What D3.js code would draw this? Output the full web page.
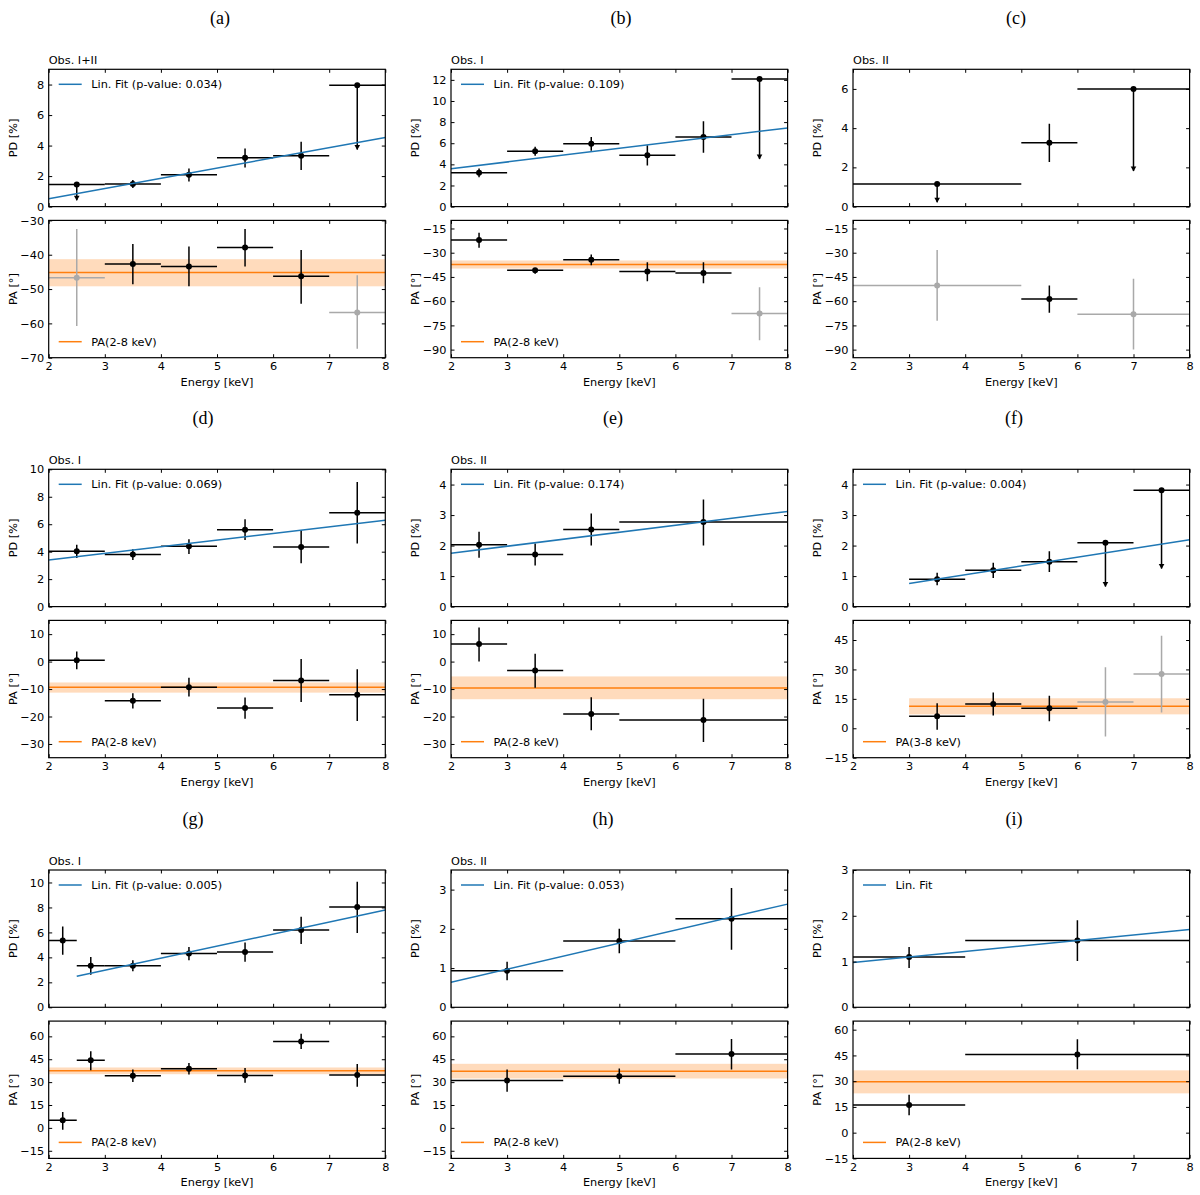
<!DOCTYPE html>
<html>
<head>
<meta charset="utf-8">
<script src="https://cdn.jsdelivr.net/npm/d3@7"></script>
<style>
  body { margin: 0; background: #fff; }
  svg text { font-family: "DejaVu Sans", sans-serif; fill: #000; }
  .tick text { font-size: 11.3px; }
  .tag { font-family: "Liberation Serif", "DejaVu Serif", serif !important; font-size: 18px; }
</style>
</head>
<body>
<div id="chart"></div>
<script>
// ---- data ----
// each point: x = bin centre, x0/x1 = bin edges, y = value, y0/y1 = error range,
// ul = arrow tip for upper limits, grey = low-significance bin

const pdA = [
  { x: 2.5, x0: 2, x1: 3, y: 1.45, ul: 0.42 },
  { x: 3.5, x0: 3, x1: 4, y: 1.48, y0: 1.22, y1: 1.74 },
  { x: 4.5, x0: 4, x1: 5, y: 2.09, y0: 1.65, y1: 2.5 },
  { x: 5.5, x0: 5, x1: 6, y: 3.2, y0: 2.57, y1: 3.81 },
  { x: 6.5, x0: 6, x1: 7, y: 3.33, y0: 2.4, y1: 4.25 },
  { x: 7.5, x0: 7, x1: 8, y: 7.95, ul: 3.75 },
];
const paA = [
  { x: 2.5, x0: 2, x1: 3, y: -46.7, y0: -60.8, y1: -32.5, grey: true },
  { x: 3.5, x0: 3, x1: 4, y: -42.7, y0: -48.6, y1: -36.9 },
  { x: 4.5, x0: 4, x1: 5, y: -43.4, y0: -49.2, y1: -37.6 },
  { x: 5.5, x0: 5, x1: 6, y: -37.9, y0: -43.4, y1: -32.5 },
  { x: 6.5, x0: 6, x1: 7, y: -46.3, y0: -54.3, y1: -38.6 },
  { x: 7.5, x0: 7, x1: 8, y: -56.8, y0: -67.4, y1: -46.0, grey: true },
];
const fitA = [[2, 0.52], [8, 4.53]];
const bandA = { x0: 2, x1: 8, c: -45.2, lo: -49.2, hi: -41.3 };

const pdB = [
  { x: 2.5, x0: 2, x1: 3, y: 3.2, y0: 2.77, y1: 3.6 },
  { x: 3.5, x0: 3, x1: 4, y: 5.25, y0: 4.81, y1: 5.66 },
  { x: 4.5, x0: 4, x1: 5, y: 5.94, y0: 5.28, y1: 6.6 },
  { x: 5.5, x0: 5, x1: 6, y: 4.87, y0: 3.9, y1: 5.82 },
  { x: 6.5, x0: 6, x1: 7, y: 6.6, y0: 5.1, y1: 8.08 },
  { x: 7.5, x0: 7, x1: 8, y: 12.07, ul: 4.5 },
];
const paB = [
  { x: 2.5, x0: 2, x1: 3, y: -22.2, y0: -27, y1: -17.7 },
  { x: 3.5, x0: 3, x1: 4, y: -40.8, y0: -43.1, y1: -39.4 },
  { x: 4.5, x0: 4, x1: 5, y: -34.4, y0: -37.7, y1: -31.1 },
  { x: 5.5, x0: 5, x1: 6, y: -41.7, y0: -47.6, y1: -35.9 },
  { x: 6.5, x0: 6, x1: 7, y: -42.5, y0: -48.9, y1: -35.9 },
  { x: 7.5, x0: 7, x1: 8, y: -67.7, y0: -84.2, y1: -51.4, grey: true },
];
const fitB = [[2, 3.58], [8, 7.45]];
const bandB = { x0: 2, x1: 8, c: -37.3, lo: -39.8, hi: -34.8 };

const pdC = [
  { x: 3.5, x0: 2, x1: 5, y: 1.15, ul: 0.22 },
  { x: 5.5, x0: 5, x1: 6, y: 3.26, y0: 2.28, y1: 4.22 },
  { x: 7, x0: 6, x1: 8, y: 6.0, ul: 1.82 },
];
const paC = [
  { x: 3.5, x0: 2, x1: 5, y: -50.3, y0: -72.2, y1: -28.4, grey: true },
  { x: 5.5, x0: 5, x1: 6, y: -58.6, y0: -67.1, y1: -50.3 },
  { x: 7, x0: 6, x1: 8, y: -68.1, y0: -90, y1: -46.2, grey: true },
];

const pdD = [
  { x: 2.5, x0: 2, x1: 3, y: 4.03, y0: 3.54, y1: 4.51 },
  { x: 3.5, x0: 3, x1: 4, y: 3.79, y0: 3.4, y1: 4.17 },
  { x: 4.5, x0: 4, x1: 5, y: 4.39, y0: 3.83, y1: 4.9 },
  { x: 5.5, x0: 5, x1: 6, y: 5.6, y0: 4.85, y1: 6.36 },
  { x: 6.5, x0: 6, x1: 7, y: 4.34, y0: 3.16, y1: 5.56 },
  { x: 7.5, x0: 7, x1: 8, y: 6.84, y0: 4.59, y1: 9.08 },
];
const paD = [
  { x: 2.5, x0: 2, x1: 3, y: 0.5, y0: -2.8, y1: 3.7 },
  { x: 3.5, x0: 3, x1: 4, y: -14.3, y0: -17.1, y1: -11.5 },
  { x: 4.5, x0: 4, x1: 5, y: -9.3, y0: -12.7, y1: -5.9 },
  { x: 5.5, x0: 5, x1: 6, y: -16.9, y0: -20.8, y1: -13.1 },
  { x: 6.5, x0: 6, x1: 7, y: -6.9, y0: -14.7, y1: 0.9 },
  { x: 7.5, x0: 7, x1: 8, y: -12.1, y0: -21.6, y1: -2.8 },
];
const fitD = [[2, 3.4], [8, 6.29]];
const bandD = { x0: 2, x1: 8, c: -9.3, lo: -11.3, hi: -7.6 };

const pdE = [
  { x: 2.5, x0: 2, x1: 3, y: 2.03, y0: 1.6, y1: 2.45 },
  { x: 3.5, x0: 3, x1: 4, y: 1.71, y0: 1.35, y1: 2.07 },
  { x: 4.5, x0: 4, x1: 5, y: 2.53, y0: 2.0, y1: 3.05 },
  { x: 6.5, x0: 5, x1: 8, y: 2.77, y0: 2.0, y1: 3.51 },
];
const paE = [
  { x: 2.5, x0: 2, x1: 3, y: 6.4, y0: 0.0, y1: 12.4 },
  { x: 3.5, x0: 3, x1: 4, y: -3.25, y0: -9.5, y1: 2.9 },
  { x: 4.5, x0: 4, x1: 5, y: -19.1, y0: -25, y1: -13 },
  { x: 6.5, x0: 5, x1: 8, y: -21.3, y0: -29.3, y1: -13.5 },
];
const fitE = [[2, 1.75], [8, 3.12]];
const bandE = { x0: 2, x1: 8, c: -9.6, lo: -13.7, hi: -5.4 };

const pdF = [
  { x: 3.5, x0: 3, x1: 4, y: 0.9, y0: 0.7, y1: 1.11 },
  { x: 4.5, x0: 4, x1: 5, y: 1.19, y0: 0.94, y1: 1.44 },
  { x: 5.5, x0: 5, x1: 6, y: 1.47, y0: 1.13, y1: 1.81 },
  { x: 6.5, x0: 6, x1: 7, y: 2.09, ul: 0.66 },
  { x: 7.5, x0: 7, x1: 8, y: 3.81, ul: 1.25 },
];
const paF = [
  { x: 3.5, x0: 3, x1: 4, y: 6.1, y0: -0.7, y1: 12.7 },
  { x: 4.5, x0: 4, x1: 5, y: 12.4, y0: 6.5, y1: 18.3 },
  { x: 5.5, x0: 5, x1: 6, y: 10.2, y0: 3.6, y1: 16.6 },
  { x: 6.5, x0: 6, x1: 7, y: 13.4, y0: -4.2, y1: 31.1, grey: true },
  { x: 7.5, x0: 7, x1: 8, y: 27.7, y0: 8.1, y1: 47.2, grey: true },
];
const fitF = [[3, 0.76], [8, 2.19]];
const bandF = { x0: 3, x1: 8, c: 11.2, lo: 7.1, hi: 15.3 };

const pdG = [
  { x: 2.25, x0: 2, x1: 2.5, y: 5.36, y0: 4.21, y1: 6.48 },
  { x: 2.75, x0: 2.5, x1: 3, y: 3.33, y0: 2.61, y1: 4.03 },
  { x: 3.5, x0: 3, x1: 4, y: 3.33, y0: 2.88, y1: 3.76 },
  { x: 4.5, x0: 4, x1: 5, y: 4.32, y0: 3.76, y1: 4.83 },
  { x: 5.5, x0: 5, x1: 6, y: 4.43, y0: 3.65, y1: 5.2 },
  { x: 6.5, x0: 6, x1: 7, y: 6.19, y0: 5.07, y1: 7.25 },
  { x: 7.5, x0: 7, x1: 8, y: 8.03, y0: 5.95, y1: 10.05 },
];
const paG = [
  { x: 2.25, x0: 2, x1: 2.5, y: 5.0, y0: -1.3, y1: 10.4 },
  { x: 2.75, x0: 2.5, x1: 3, y: 44.3, y0: 37.8, y1: 50.2 },
  { x: 3.5, x0: 3, x1: 4, y: 34.1, y0: 30, y1: 38.3 },
  { x: 4.5, x0: 4, x1: 5, y: 38.7, y0: 35, y1: 42.6 },
  { x: 5.5, x0: 5, x1: 6, y: 34.3, y0: 29.6, y1: 39.3 },
  { x: 6.5, x0: 6, x1: 7, y: 56.7, y0: 51.7, y1: 61.7 },
  { x: 7.5, x0: 7, x1: 8, y: 34.6, y0: 27, y1: 41.9 },
];
const fitG = [[2.5, 2.48], [8, 7.79]];
const bandG = { x0: 2, x1: 8, c: 37.4, lo: 35.2, hi: 39.6 };

const pdH = [
  { x: 3, x0: 2, x1: 4, y: 0.93, y0: 0.69, y1: 1.16 },
  { x: 5, x0: 4, x1: 6, y: 1.69, y0: 1.38, y1: 2.0 },
  { x: 7, x0: 6, x1: 8, y: 2.26, y0: 1.47, y1: 3.04 },
];
const paH = [
  { x: 3, x0: 2, x1: 4, y: 31.1, y0: 23.7, y1: 38.3 },
  { x: 5, x0: 4, x1: 6, y: 33.9, y0: 28.9, y1: 38.9 },
  { x: 7, x0: 6, x1: 8, y: 48.5, y0: 38.3, y1: 58.3 },
];
const fitH = [[2, 0.64], [8, 2.63]];
const bandH = { x0: 2, x1: 8, c: 37.2, lo: 32.4, hi: 42 };

const pdI = [
  { x: 3, x0: 2, x1: 4, y: 1.1, y0: 0.86, y1: 1.32 },
  { x: 6, x0: 4, x1: 8, y: 1.46, y0: 1.01, y1: 1.9 },
];
const paI = [
  { x: 3, x0: 2, x1: 4, y: 16.1, y0: 10.1, y1: 22.1 },
  { x: 6, x0: 4, x1: 8, y: 45.6, y0: 36.9, y1: 54.4 },
];
const fitI = [[2, 0.98], [8, 1.7]];
const bandI = { x0: 2, x1: 8, c: 29.7, lo: 22.9, hi: 36.3 };

// per-panel labels and axis settings
const panelTags = ["(a)", "(b)", "(c)", "(d)", "(e)", "(f)", "(g)", "(h)", "(i)"];
const obsLabels = ["Obs. I+II", "Obs. I", "Obs. II", "Obs. I", "Obs. II", "", "Obs. I", "Obs. II", ""];
const fitLabels = [
  "Lin. Fit (p-value: 0.034)", "Lin. Fit (p-value: 0.109)", "",
  "Lin. Fit (p-value: 0.069)", "Lin. Fit (p-value: 0.174)", "Lin. Fit (p-value: 0.004)",
  "Lin. Fit (p-value: 0.005)", "Lin. Fit (p-value: 0.053)", "Lin. Fit",
];
const paLabels = [
  "PA(2-8 keV)", "PA(2-8 keV)", "",
  "PA(2-8 keV)", "PA(2-8 keV)", "PA(3-8 keV)",
  "PA(2-8 keV)", "PA(2-8 keV)", "PA(2-8 keV)",
];
const pdDomains = [[0, 9], [0, 13], [0, 7], [0, 10], [0, 4.5], [0, 4.5], [0, 11], [0, 3.5], [0, 3]];
const pdTicks = [
  [0, 2, 4, 6, 8], [0, 2, 4, 6, 8, 10, 12], [0, 2, 4, 6],
  [0, 2, 4, 6, 8, 10], [0, 1, 2, 3, 4], [0, 1, 2, 3, 4],
  [0, 2, 4, 6, 8, 10], [0, 1, 2, 3], [0, 1, 2, 3],
];
const paDomains = [[-70, -30], [-95, -10], [-95, -10], [-35, 15], [-35, 15], [-15, 55], [-20, 70], [-20, 70], [-15, 65]];
const paTicks = [
  [-70, -60, -50, -40, -30], [-90, -75, -60, -45, -30, -15], [-90, -75, -60, -45, -30, -15],
  [-30, -20, -10, 0, 10], [-30, -20, -10, 0, 10], [-15, 0, 15, 30, 45],
  [-15, 0, 15, 30, 45, 60], [-15, 0, 15, 30, 45, 60], [-15, 0, 15, 30, 45, 60],
];
const energyTicks = [2, 3, 4, 5, 6, 7, 8];

const pdSets = [pdA, pdB, pdC, pdD, pdE, pdF, pdG, pdH, pdI];
const paSets = [paA, paB, paC, paD, paE, paF, paG, paH, paI];
const fitSets = [fitA, fitB, null, fitD, fitE, fitF, fitG, fitH, fitI];
const bandSets = [bandA, bandB, null, bandD, bandE, bandF, bandG, bandH, bandI];

// ---- layout ----
const width = 1200;
const height = 1195;
const colLeft = [48.7, 451, 853];
const rowTop = [69.3, 469.3, 870];
const tagX = [220, 621, 1016, 203, 613, 1014, 193, 603, 1014];
const axW = 336.6;
const axH = 137.3;
const axGap = 13.8;
const tickLen = 3.5;
const fontSize = "11.3px";

const blue = "#1f77b4";
const orange = "#ff7f0e";
const grey = "#a9a9a9";

const svg = d3
  .select("#chart")
  .append("svg")
  .attr("width", width)
  .attr("height", height);

svg.append("rect").attr("width", width).attr("height", height).attr("fill", "#fff");

const xScale = d3.scaleLinear().domain([2, 8]).range([0, axW]);

function drawFrame(g, y, yTicks, showX) {
  g.append("g")
    .call(d3.axisLeft(y).tickValues(yTicks).tickSize(-tickLen).tickPadding(4.5).tickFormat(d3.format("")))
    .call((s) => s.select(".domain").remove());
  g.append("g")
    .attr("transform", `translate(${axW},0)`)
    .call(d3.axisRight(y).tickValues(yTicks).tickSize(-tickLen).tickFormat(""))
    .call((s) => s.select(".domain").remove());
  g.append("g")
    .attr("transform", `translate(0,${axH})`)
    .call(
      d3.axisBottom(xScale).tickValues(energyTicks).tickSize(-tickLen).tickPadding(4.5)
        .tickFormat(showX ? d3.format("") : ""),
    )
    .call((s) => s.select(".domain").remove());
  g.append("g")
    .call(d3.axisTop(xScale).tickValues(energyTicks).tickSize(-tickLen).tickFormat(""))
    .call((s) => s.select(".domain").remove());
  g.selectAll(".tick line").attr("stroke", "#000").attr("stroke-width", 1);
  g.append("rect")
    .attr("width", axW)
    .attr("height", axH)
    .attr("fill", "none")
    .attr("stroke", "#000")
    .attr("stroke-width", 1.2);
}

function drawPoints(g, y, pts) {
  const p = g.selectAll(".pt").data(pts).join("g").attr("class", "pt");
  const col = (d) => (d.grey ? grey : "#000");
  p.append("line")
    .attr("x1", (d) => xScale(d.x0))
    .attr("x2", (d) => xScale(d.x1))
    .attr("y1", (d) => y(d.y))
    .attr("y2", (d) => y(d.y))
    .attr("stroke", col)
    .attr("stroke-width", 1.5);
  p.append("line")
    .attr("x1", (d) => xScale(d.x))
    .attr("x2", (d) => xScale(d.x))
    .attr("y1", (d) => y(d.ul != null ? d.y : d.y0))
    .attr("y2", (d) => y(d.ul != null ? d.ul : d.y1))
    .attr("stroke", col)
    .attr("stroke-width", 1.5);
  p.filter((d) => d.ul != null)
    .append("path")
    .attr("d", (d) => {
      const cx = xScale(d.x);
      const ty = y(d.ul);
      return `M${cx - 2.8},${ty - 4.5}L${cx + 2.8},${ty - 4.5}L${cx},${ty + 0.5}Z`;
    })
    .attr("fill", col);
  p.append("circle")
    .attr("cx", (d) => xScale(d.x))
    .attr("cy", (d) => y(d.y))
    .attr("r", 3)
    .attr("fill", col);
}

function legendItem(g, yPos, color, label) {
  g.append("line")
    .attr("x1", 10).attr("x2", 33)
    .attr("y1", yPos).attr("y2", yPos)
    .attr("stroke", color).attr("stroke-width", 1.5);
  g.append("text")
    .attr("x", 42.5).attr("y", yPos)
    .attr("dy", "0.35em")
    .attr("font-size", fontSize)
    .text(label);
}

panelTags.forEach((tag, i) => {
  const col = i % 3;
  const row = Math.floor(i / 3);
  const left = colLeft[col];
  const top = rowTop[row];

  svg.append("text")
    .attr("class", "tag")
    .attr("x", tagX[i])
    .attr("y", top - 45)
    .attr("text-anchor", "middle")
    .text(tag);

  if (obsLabels[i]) {
    svg.append("text")
      .attr("x", left)
      .attr("y", top - 5)
      .attr("font-size", fontSize)
      .text(obsLabels[i]);
  }

  // ---- PD (top) ----
  const gTop = svg.append("g").attr("transform", `translate(${left},${top})`);
  const yPD = d3.scaleLinear().domain(pdDomains[i]).range([axH, 0]);
  const clipTop = `clip-top-${i}`;
  gTop.append("clipPath").attr("id", clipTop).append("rect").attr("width", axW).attr("height", axH);
  const plotTop = gTop.append("g").attr("clip-path", `url(#${clipTop})`);

  drawPoints(plotTop, yPD, pdSets[i]);
  if (fitSets[i]) {
    plotTop.append("path")
      .datum(fitSets[i])
      .attr("fill", "none")
      .attr("stroke", blue)
      .attr("stroke-width", 1.5)
      .attr("d", d3.line().x((d) => xScale(d[0])).y((d) => yPD(d[1])));
  }
  drawFrame(gTop, yPD, pdTicks[i], false);
  if (fitLabels[i]) legendItem(gTop, 15, blue, fitLabels[i]);

  gTop.append("text")
    .attr("transform", `translate(-36,${axH / 2}) rotate(-90)`)
    .attr("text-anchor", "middle")
    .attr("dy", "0.35em")
    .attr("font-size", fontSize)
    .text("PD [%]");

  // ---- PA (bottom) ----
  const bTop = top + axH + axGap;
  const gBot = svg.append("g").attr("transform", `translate(${left},${bTop})`);
  const yPA = d3.scaleLinear().domain(paDomains[i]).range([axH, 0]);
  const clipBot = `clip-bot-${i}`;
  gBot.append("clipPath").attr("id", clipBot).append("rect").attr("width", axW).attr("height", axH);
  const plotBot = gBot.append("g").attr("clip-path", `url(#${clipBot})`);

  const band = bandSets[i];
  if (band) {
    plotBot.append("rect")
      .attr("x", xScale(band.x0))
      .attr("width", xScale(band.x1) - xScale(band.x0))
      .attr("y", yPA(band.hi))
      .attr("height", yPA(band.lo) - yPA(band.hi))
      .attr("fill", orange)
      .attr("fill-opacity", 0.28);
    plotBot.append("line")
      .attr("x1", xScale(band.x0)).attr("x2", xScale(band.x1))
      .attr("y1", yPA(band.c)).attr("y2", yPA(band.c))
      .attr("stroke", orange)
      .attr("stroke-width", 1.5);
  }
  drawPoints(plotBot, yPA, paSets[i]);
  drawFrame(gBot, yPA, paTicks[i], true);
  if (paLabels[i]) legendItem(gBot, axH - 16, orange, paLabels[i]);

  gBot.append("text")
    .attr("transform", `translate(-36,${axH / 2}) rotate(-90)`)
    .attr("text-anchor", "middle")
    .attr("dy", "0.35em")
    .attr("font-size", fontSize)
    .text("PA [°]");

  gBot.append("text")
    .attr("x", axW / 2)
    .attr("y", axH + 28)
    .attr("text-anchor", "middle")
    .attr("font-size", fontSize)
    .text("Energy [keV]");
});
</script>
</body>
</html>
